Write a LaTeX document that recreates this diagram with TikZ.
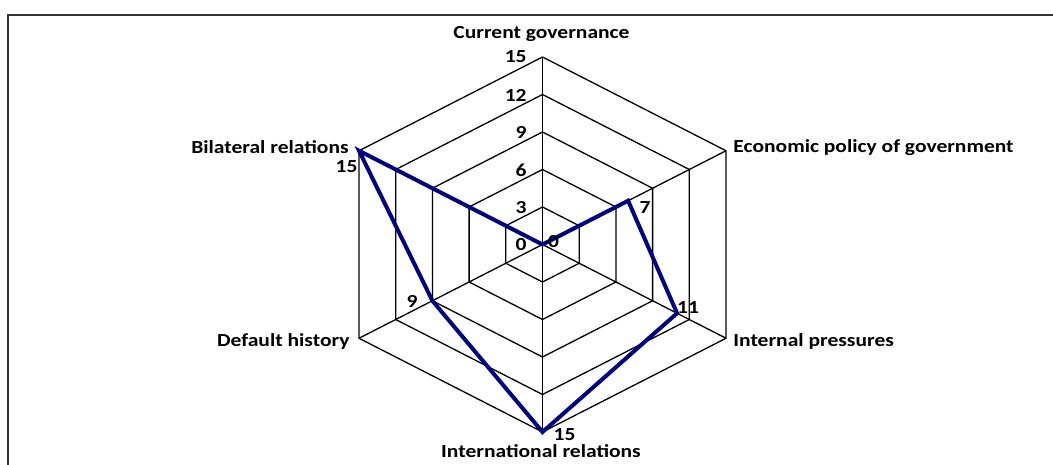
\documentclass[tikz,border=0pt]{standalone}
\usepackage{fontspec}
\setmainfont{Carlito}
\usetikzlibrary{calc}
\definecolor{navyline}{RGB}{0,0,128}
\newcommand\stretchtxt[1]{\scalebox{1.17}[1]{#1}}
\begin{document}
\begin{tikzpicture}[x=0.5pt,y=-0.5pt,
  grid/.style={black, line width=0.65pt},
  series/.style={navyline, line width=2pt, line join=miter},
  lbl/.style={font=\bfseries\fontsize{9.2}{10}\selectfont, inner sep=0pt},
  frame/.style={draw=black!80, line width=1pt}]
\useasboundingbox (0,0) rectangle (1053,465);
\draw[frame] (8,470) -- (8,14.7) -- (1060,14.7);
\coordinate (C) at (542.5,244.5);
\begin{scope}[shift={(C)}, x=7.063pt, y=6.25pt]
  \foreach \r in {3,6,9,12,15}
    \draw[grid] (90:\r) -- (30:\r) -- (-30:\r) -- (-90:\r) -- (-150:\r) -- (150:\r) -- cycle;
  \foreach \a in {90,30,-30,-90,-150,150}
    \draw[grid] (0,0) -- (\a:15);
  \coordinate (p1) at (90:0);
  \coordinate (p2) at (30:7);
  \coordinate (p3) at (-30:11);
  \coordinate (p4) at (-90:15);
  \coordinate (p5) at (-150:9);
  \coordinate (p6) at (150:15);
  \draw[series] (p1) -- (p2) -- (p3) -- (p4) -- (p5) -- (p6) -- cycle;
\end{scope}
% axis labels
\node[lbl, anchor=east] (a15) at (527,57) {\stretchtxt{15}};
\node[lbl, anchor=east] (a12) at (527,95) {\stretchtxt{12}};
\node[lbl, anchor=east] (a9) at (527,132.5) {\stretchtxt{9}};
\node[lbl, anchor=east] (a6) at (527,170) {\stretchtxt{6}};
\node[lbl, anchor=east] (a3) at (527,207.5) {\stretchtxt{3}};
\node[lbl, anchor=east] (a0) at (527,245) {\stretchtxt{0}};
% value labels
\node[lbl] (v1) at (553.5,242) {\stretchtxt{0}};
\node[lbl] (v2) at (645,207.5) {\stretchtxt{7}};
\node[lbl] (v3) at (688,308) {\stretchtxt{11}};
\node[lbl] (v4) at (564.5,435) {\stretchtxt{15}};
\node[lbl] (v5) at (412,301) {\stretchtxt{9}};
\node[lbl] (v6) at (346.5,167) {\stretchtxt{15}};
% category labels
\node[lbl, anchor=base] (c1) at (541.5,39) {\stretchtxt{Current governance}};
\node[lbl, anchor=base west] (c2) at (733,152.5) {\stretchtxt{Economic policy of government}};
\node[lbl, anchor=base west] (c3) at (733,346) {\stretchtxt{Internal pressures}};
\node[lbl, anchor=base] (c4) at (541,457.5) {\stretchtxt{International relations}};
\node[lbl, anchor=base east] (c5) at (350,346) {\stretchtxt{Default history}};
\node[lbl, anchor=base east] (c6) at (349,153) {\stretchtxt{Bilateral relations}};
\end{tikzpicture}
\end{document}
